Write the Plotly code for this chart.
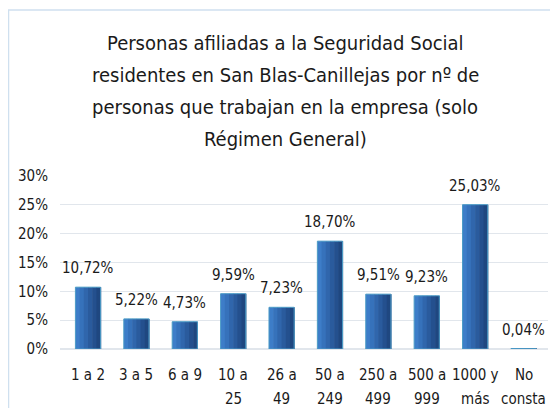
import plotly.graph_objects as go

# ============================================================
# DATA
# ============================================================
titulo = [
    "Personas afiliadas a la Seguridad Social",
    "residentes en San Blas-Canillejas por nº de",
    "personas que trabajan en la empresa (solo",
    "Régimen General)",
]
categorias = ["1 a 2", "3 a 5", "6 a 9", "10 a<br>25", "26 a<br>49", "50 a<br>249",
              "250 a<br>499", "500 a<br>999", "1000 y<br>más", "No<br>consta"]
porcentajes = [10.72, 5.22, 4.73, 9.59, 7.23, 18.70, 9.51, 9.23, 25.03, 0.04]
etiquetas = [f"{v:.2f}%".replace(".", ",") for v in porcentajes]
y_ticks = [0, 5, 10, 15, 20, 25, 30]
y_labels = [f"{t}%" for t in y_ticks]

FONT = "DejaVu Sans Condensed, DejaVu Sans, sans-serif"
TXT = "#1a1a1a"

# ============================================================
# PLOT
# ============================================================
# la página tiene 8px de margen: la figura ocupa 542x400 dentro de la ventana
W, H = 542, 400
L, R, T, B = 52, 2, 168, 59
pw, ph = W - L - R, H - T - B
BAR_W = 0.52

# degradado horizontal de las barras (claro a la izquierda, oscuro a la derecha)
grad = ["#3D7DC8", "#3672BB", "#3066AC", "#2A5B9D", "#24508E", "#1F4780"]
n = len(grad)
fig = go.Figure()
for k, col in enumerate(grad):
    fig.add_trace(go.Bar(
        x=categorias, y=porcentajes,
        width=BAR_W / n * 1.15, offset=-BAR_W / 2 + k * BAR_W / n,
        marker=dict(color=col, line=dict(width=0)),
        hoverinfo="skip",
    ))
# contorno
fig.add_trace(go.Bar(
    x=categorias, y=porcentajes, width=BAR_W,
    marker=dict(color="rgba(0,0,0,0)", line=dict(color="#4C9CC6", width=1)),
    hoverinfo="x+y",
))

# etiquetas de datos encima de cada barra
for cat, val, txt in zip(categorias, porcentajes, etiquetas):
    fig.add_annotation(
        x=cat, y=val, text=txt, showarrow=False,
        yanchor="bottom", yshift=8,
        font=dict(family=FONT, size=15, color=TXT),
    )

# etiquetas de categoría (dos líneas con interlineado amplio)
for cat in categorias:
    for j, parte in enumerate(cat.split("<br>")):
        fig.add_annotation(
            x=cat, xref="x", y=0, yref="paper", text=parte, showarrow=False,
            yanchor="middle", yshift=-26 - 24 * j,
            font=dict(family=FONT, size=15, color=TXT),
        )

# título en cuatro líneas (interlineado como el original)
for i, linea in enumerate(titulo):
    y_fig = 35 + 32 * i
    fig.add_annotation(
        text=linea, xref="paper", yref="paper",
        x=(277 - L) / pw, y=(T + ph - y_fig) / ph,
        xanchor="center", yanchor="middle", showarrow=False,
        font=dict(family=FONT, size=20, color=TXT),
    )

# marco azul claro del gráfico
fig.add_shape(
    type="rect", xref="paper", yref="paper",
    x0=(0.5 - L) / pw, x1=(W + 20 - L) / pw,
    y0=-(H + 20 - (T + ph)) / ph, y1=(T + ph - 2) / ph,
    line=dict(color="#CFE0EF", width=1.5), layer="above",
)

fig.update_layout(
    width=W, height=H,
    margin=dict(l=L, r=R, t=T, b=B),
    paper_bgcolor="white", plot_bgcolor="white",
    showlegend=False,
    barmode="overlay",
    xaxis=dict(showticklabels=False, showline=False, ticks=""),
    yaxis=dict(
        range=[0, 30], tickvals=y_ticks, ticktext=y_labels,
        tickfont=dict(family=FONT, size=15, color=TXT),
        ticklabelstandoff=11,
        showgrid=True, gridcolor="#E1E6EC", gridwidth=1,
        zeroline=True, zerolinecolor="#E1E6EC",
        showline=False, ticks="",
    ),
)

fig.write_html("out.html")
